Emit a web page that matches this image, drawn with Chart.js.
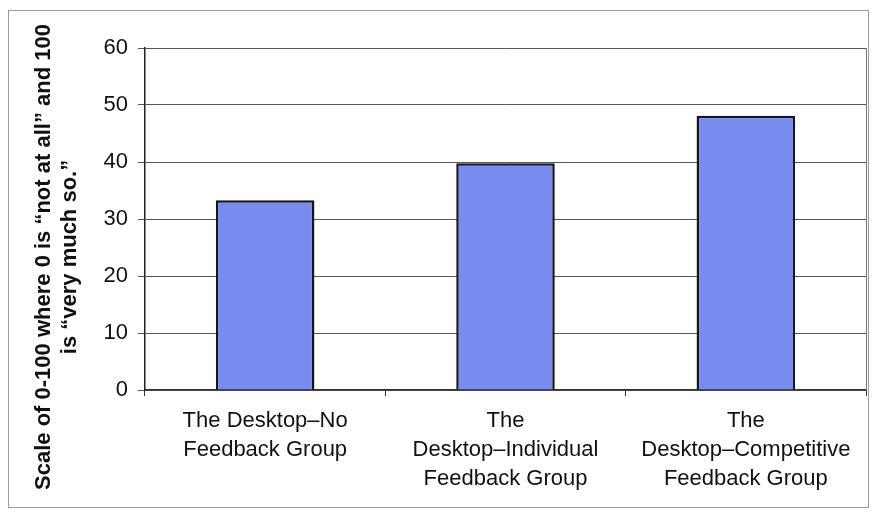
<!DOCTYPE html>
<html>
<head>
<meta charset="utf-8">
<script src="https://cdn.jsdelivr.net/npm/chart.js@4"></script>
<style>
  body { margin: 0; background: #fff; }
  canvas { display: block; }
</style>
</head>
<body>
<canvas id="myChart" width="875" height="516"></canvas>
<script>
const groups = [
  ['The Desktop\u2013No', 'Feedback Group'],
  ['The', 'Desktop\u2013Individual', 'Feedback Group'],
  ['The', 'Desktop\u2013Competitive', 'Feedback Group']
];
const scores = [33.3, 39.8, 48.1];
const yTitle = ['Scale of 0-100 where 0 is \u201cnot at all\u201d and 100', 'is \u201cvery much so.\u201d'];

// outer frame, right border of plot area, and the axis title
// (title is centred on the whole frame, not on the y scale, so drawn here)
const framePlugin = {
  id: 'frame',
  beforeDraw(chart) {
    const c = chart.ctx;
    c.save();
    c.fillStyle = '#fff';
    c.fillRect(0, 0, chart.width, chart.height);
    c.strokeStyle = '#999';
    c.lineWidth = 1;
    c.strokeRect(8.5, 10.5, 860, 497);
    c.restore();
  },
  afterDatasetsDraw(chart) {
    const a = chart.chartArea;
    const c = chart.ctx;
    c.save();
    c.strokeStyle = '#777';
    c.lineWidth = 1;
    c.beginPath();
    c.moveTo(a.right + 0.5, a.top);
    c.lineTo(a.right + 0.5, a.bottom);
    c.stroke();
    // y axis title
    c.translate(44, 257);
    c.rotate(-Math.PI / 2);
    c.fillStyle = '#111';
    c.font = 'bold 22px "Liberation Sans"';
    c.textAlign = 'center';
    c.textBaseline = 'middle';
    yTitle.forEach(function(line, i) { c.fillText(line, 0, i * 26); });
    c.restore();
  }
};

const ctx = document.getElementById('myChart').getContext('2d');
new Chart(ctx, {
  type: 'bar',
  data: {
    labels: groups,
    datasets: [{
      data: scores,
      backgroundColor: '#788cf0',
      borderColor: '#151520',
      borderWidth: 2.5,
      barPercentage: 0.41,
      categoryPercentage: 1
    }]
  },
  plugins: [framePlugin],
  options: {
    responsive: false,
    animation: false,
    layout: { padding: { left: 10, top: 48, right: 9, bottom: 0 } },
    plugins: {
      legend: { display: false },
      tooltip: { enabled: false }
    },
    scales: {
      x: {
        afterFit: function(s) { s.height = 126; },
        grid: { offset: true, drawOnChartArea: false, tickLength: 6, color: '#333' },
        border: { color: '#333', width: 1.5 },
        ticks: {
          color: '#111',
          padding: 11,
          maxRotation: 0,
          font: { family: 'Liberation Sans', size: 22, lineHeight: 1.3 }
        }
      },
      y: {
        min: 0,
        max: 60,
        afterFit: function(s) { s.width = 135; },
        grid: { color: '#555', tickLength: 7 },
        border: { color: '#222', width: 1.5 },
        ticks: {
          stepSize: 10,
          color: '#111',
          padding: 10,
          font: { family: 'Liberation Sans', size: 22 }
        }
      }
    }
  }
});
</script>
</body>
</html>
